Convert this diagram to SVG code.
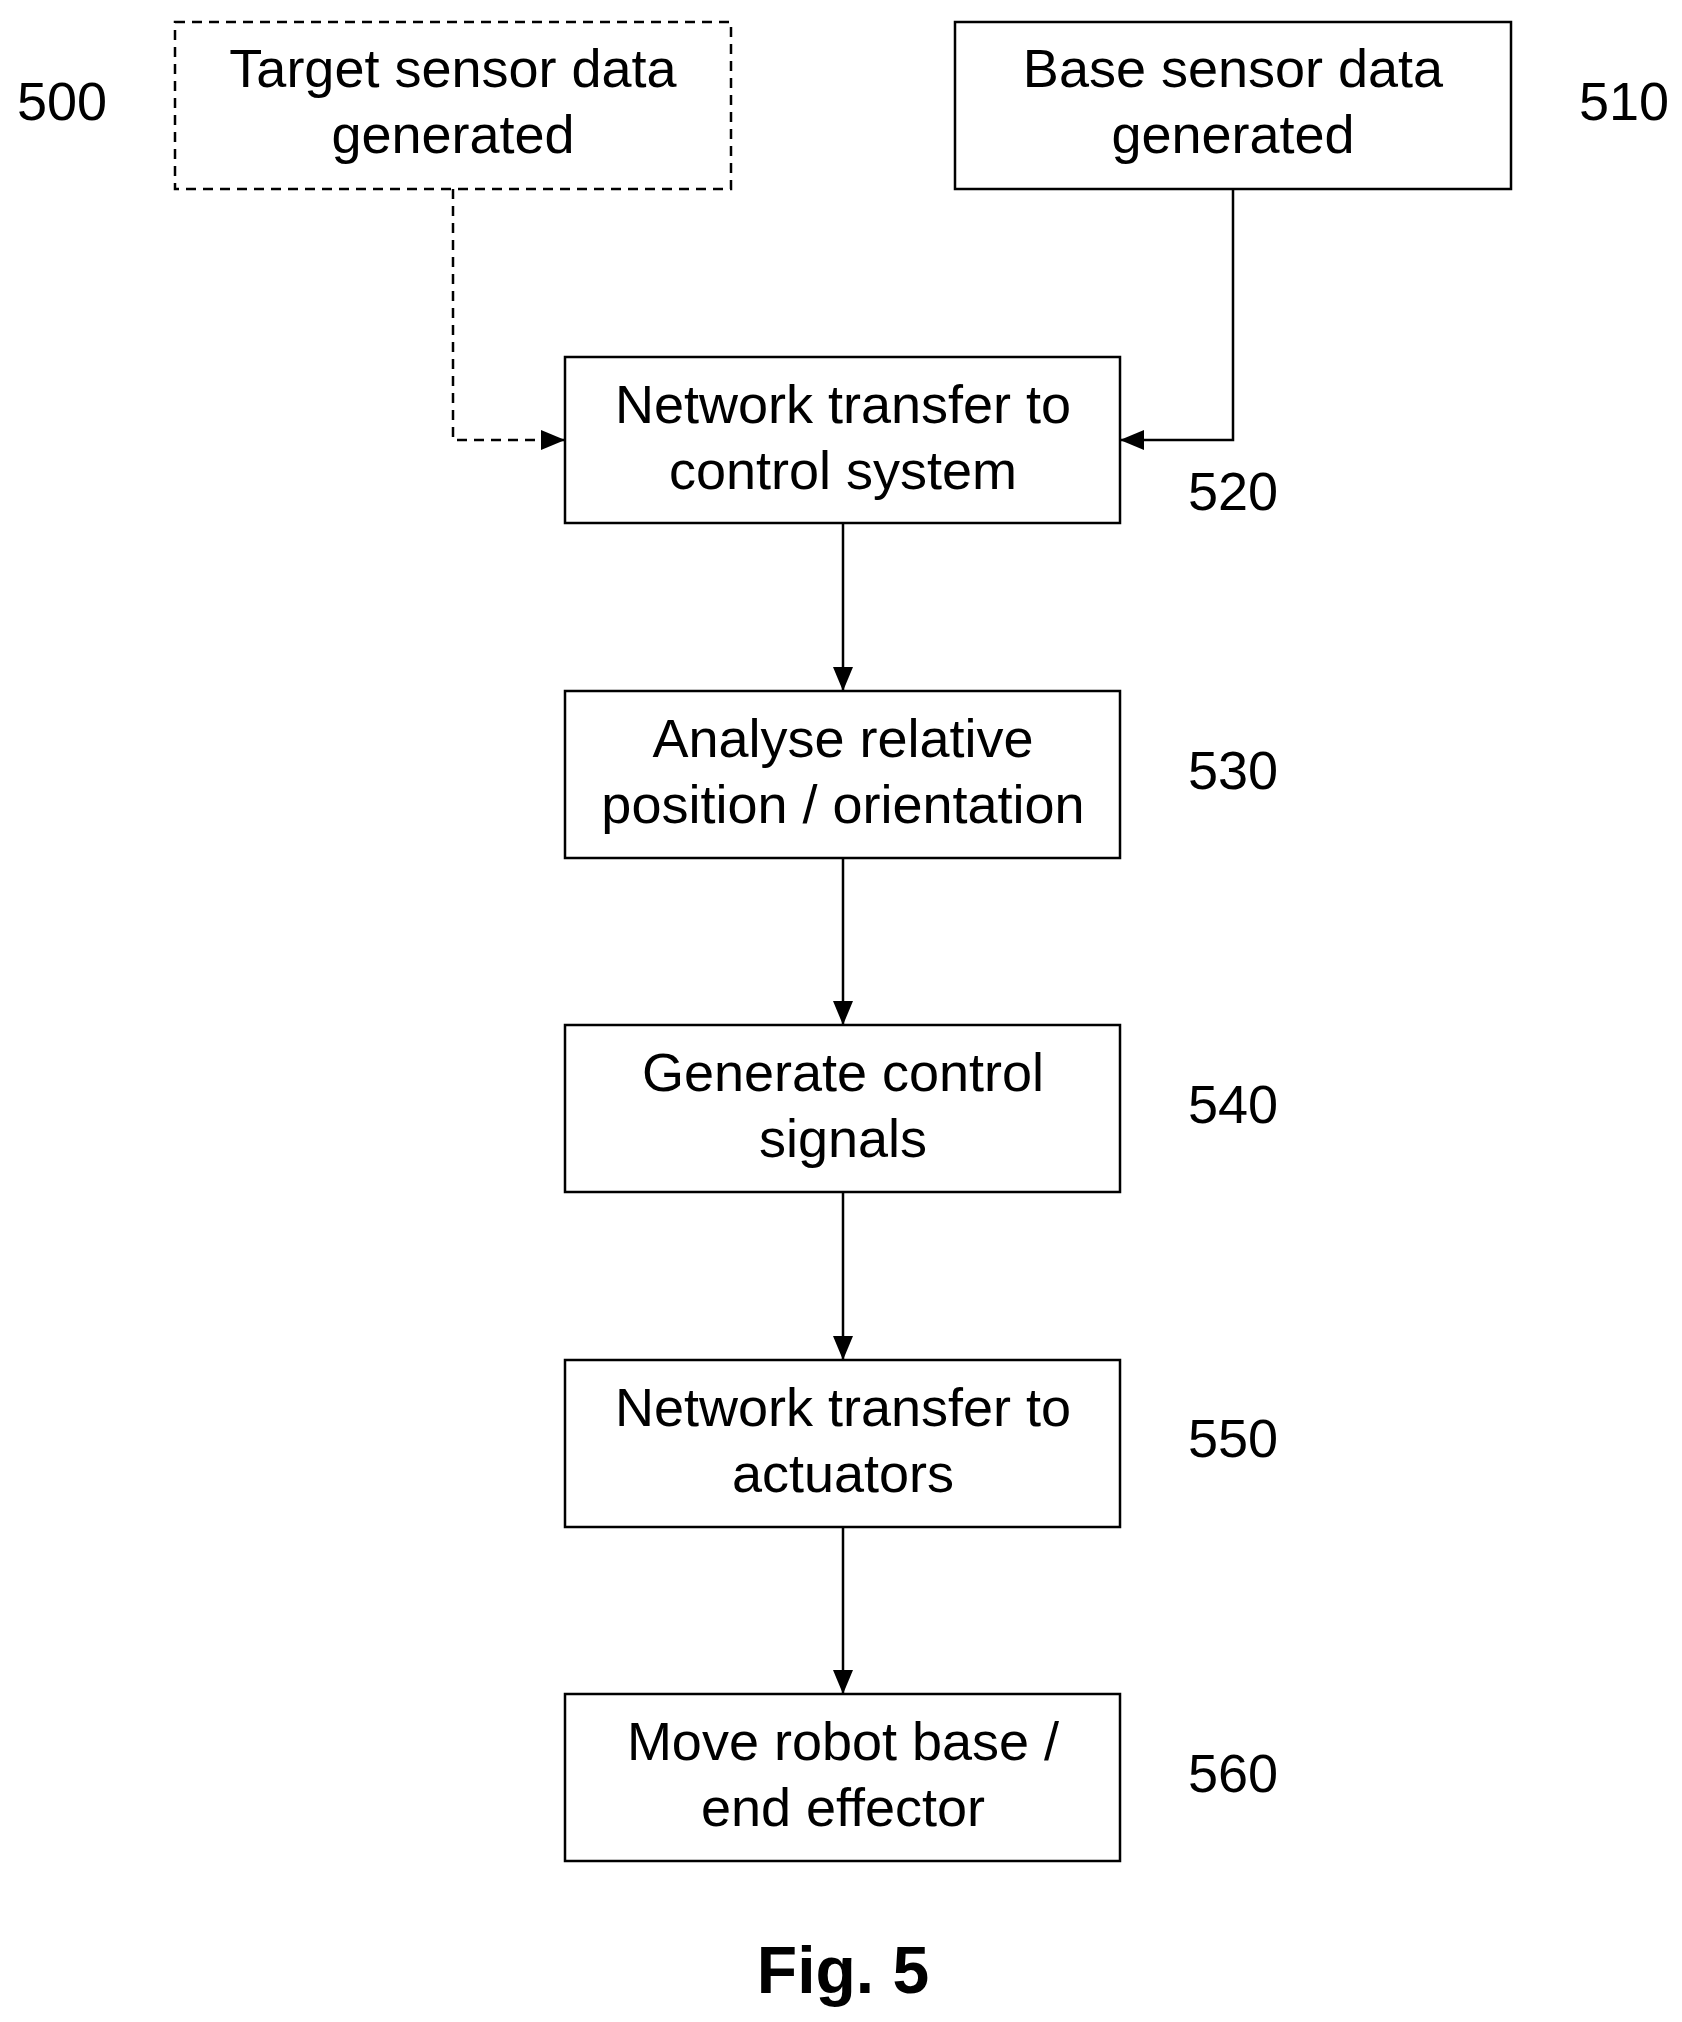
<svg xmlns="http://www.w3.org/2000/svg" width="1682" height="2022" viewBox="0 0 1682 2022">
<style>
text{font-family:"Liberation Sans",Arial,sans-serif;font-size:54px;fill:#000;text-anchor:middle}
.box{fill:#fff;stroke:#000;stroke-width:2.5}
.dash{stroke-dasharray:10,7}
.c{fill:none;stroke:#000;stroke-width:2.5}
</style>
<defs><marker id="a" viewBox="0 0 10 10" refX="10" refY="5" markerWidth="9" markerHeight="9" markerUnits="userSpaceOnUse" orient="auto" ><path d="M0,0L10,5L0,10z"/></marker>
<marker id="ah" viewBox="0 0 24 20" refX="24" refY="10" markerWidth="24" markerHeight="20" markerUnits="userSpaceOnUse" orient="auto"><path d="M0,0L24,10L0,20z"/></marker></defs>
<rect width="1682" height="2022" fill="#fff"/>
<g id="connectors">
<path class="c dash" d="M453,189V440H565" marker-end="url(#ah)"/>
<path class="c" d="M1233,189V440H1120" marker-end="url(#ah)"/>
<path class="c" d="M843,523V691" marker-end="url(#ah)"/>
<path class="c" d="M843,858V1025" marker-end="url(#ah)"/>
<path class="c" d="M843,1192V1360" marker-end="url(#ah)"/>
<path class="c" d="M843,1527V1694" marker-end="url(#ah)"/>
</g>
<g id="n500"><rect class="box dash" x="175" y="22" width="556" height="167"/><text x="453" y="87">Target sensor data</text><text x="453" y="153">generated</text><text x="62" y="120">500</text></g>
<g id="n510"><rect class="box" x="955" y="22" width="556" height="167"/><text x="1233" y="87">Base sensor data</text><text x="1233" y="153">generated</text><text x="1624" y="120">510</text></g>
<g id="n520"><rect class="box" x="565" y="357" width="555" height="166"/><text x="843" y="423">Network transfer to</text><text x="843" y="489">control system</text><text x="1233" y="510">520</text></g>
<g id="n530"><rect class="box" x="565" y="691" width="555" height="167"/><text x="843" y="757">Analyse relative</text><text x="843" y="823">position / orientation</text><text x="1233" y="789">530</text></g>
<g id="n540"><rect class="box" x="565" y="1025" width="555" height="167"/><text x="843" y="1091">Generate control</text><text x="843" y="1157">signals</text><text x="1233" y="1123">540</text></g>
<g id="n550"><rect class="box" x="565" y="1360" width="555" height="167"/><text x="843" y="1426">Network transfer to</text><text x="843" y="1492">actuators</text><text x="1233" y="1457">550</text></g>
<g id="n560"><rect class="box" x="565" y="1694" width="555" height="167"/><text x="843" y="1760">Move robot base /</text><text x="843" y="1826">end effector</text><text x="1233" y="1792">560</text></g>
<text x="843" y="1993" style="font-weight:bold;font-size:66px">Fig. 5</text>
</svg>
